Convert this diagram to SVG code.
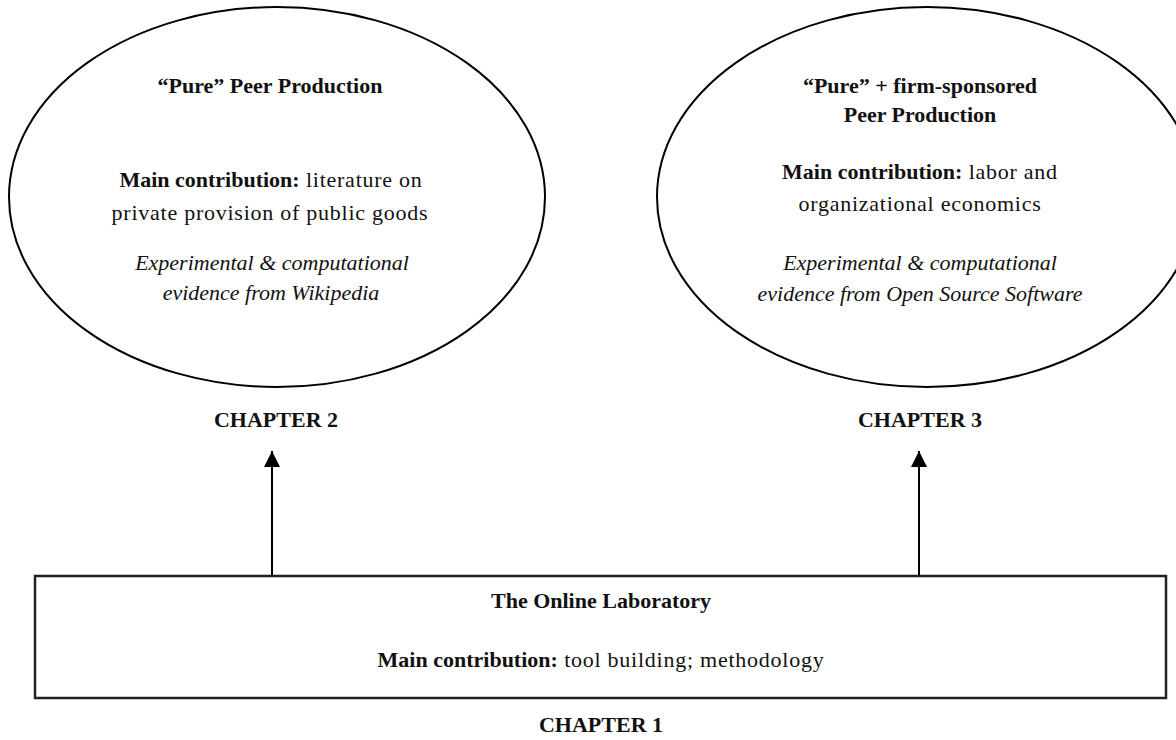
<svg xmlns="http://www.w3.org/2000/svg" width="1176" height="740" viewBox="0 0 1176 740">
<style>
text{font-family:"Liberation Serif","Times New Roman",serif;font-size:22px;fill:#111;text-anchor:middle}
.r{letter-spacing:0.75px}
.b{font-weight:bold;letter-spacing:0}
.i{font-style:italic}
.shape{fill:#fff;stroke:#000;stroke-width:2}
.box{fill:#fff;stroke:#222;stroke-width:2.5}
.conn{stroke:#000;stroke-width:2;fill:none}
</style>
<defs>
<marker id="ah" viewBox="0 0 16 16" refX="16" refY="8" markerWidth="16" markerHeight="16" markerUnits="userSpaceOnUse" orient="auto">
<path d="M0,0 L16,8 L0,16 Z" fill="#000"/>
</marker>
</defs>
<rect width="1176" height="740" fill="#fff"/>
<g id="node-ch2">
<ellipse class="shape" cx="277" cy="197" rx="268" ry="190"/>
<text x="270" y="93" class="b">“Pure” Peer Production</text>
<text x="271" y="187" class="r"><tspan class="b">Main contribution:</tspan> literature on</text>
<text x="270" y="220" class="r">private provision of public goods</text>
<text x="272" y="270" class="i">Experimental &amp; computational</text>
<text x="271" y="300" class="i">evidence from Wikipedia</text>
<text x="276" y="427" class="b">CHAPTER 2</text>
</g>
<g id="node-ch3">
<ellipse class="shape" cx="927" cy="197" rx="270" ry="190"/>
<text x="920" y="93" class="b">“Pure” + firm-sponsored</text>
<text x="920" y="122" class="b">Peer Production</text>
<text x="920" y="179" class="r"><tspan class="b">Main contribution:</tspan> labor and</text>
<text x="920" y="211" class="r">organizational economics</text>
<text x="920" y="270" class="i">Experimental &amp; computational</text>
<text x="920" y="301" class="i">evidence from Open Source Software</text>
<text x="920" y="427" class="b">CHAPTER 3</text>
</g>
<g id="node-ch1">
<rect class="box" x="35" y="576" width="1131" height="122"/>
<text x="601" y="608" class="b">The Online Laboratory</text>
<text x="601" y="667" class="r"><tspan class="b">Main contribution:</tspan> tool building; methodology</text>
<text x="601" y="732" class="b">CHAPTER 1</text>
</g>
<g id="connectors">
<path class="conn" d="M272,576 L272,451" marker-end="url(#ah)"/>
<path class="conn" d="M919,576 L919,451" marker-end="url(#ah)"/>
</g>
</svg>
